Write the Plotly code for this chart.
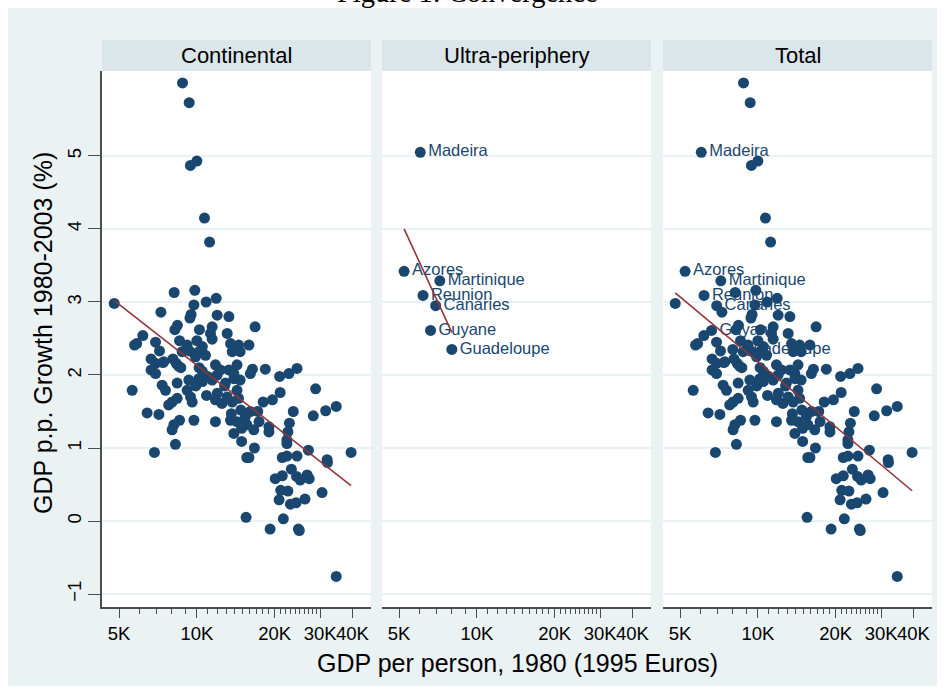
import numpy as np
import plotly.graph_objects as go

# continental regions: GDP per person 1980 (1995 euros, thousands) and growth 1980-2003 (%)
cont_gdp_k = [
    8.8, 9.34, 9.44, 10.0, 10.7, 11.2, 4.79, 8.17, 9.82, 9.74,
    10.86, 11.88, 7.26, 9.4, 9.5, 11.98, 13.3, 8.41, 8.22, 10.23,
    11.46, 11.29, 11.46, 6.18, 5.74, 5.85, 6.92, 8.57, 9.17, 10.0,
    10.5, 9.36, 10.18, 10.8, 9.88, 8.77, 7.17, 6.65, 6.92, 8.08,
    8.32, 7.45, 6.65, 6.92, 11.8, 12.34, 11.98, 13.5, 13.7, 13.3,
    13.9, 13.1, 8.49, 16.8, 14.5, 15.9, 14.7, 14.3, 16.4, 16.1,
    18.4, 20.9, 22.7, 24.4, 5.62, 7.34, 7.56, 8.39, 9.31, 10.18,
    10.5, 9.17, 9.45, 9.59, 8.02, 7.78, 8.39, 6.42, 7.13, 8.57,
    8.15, 8.02, 9.74, 8.26, 6.85, 11.8, 13.5, 13.9, 11.8, 12.5,
    13.1, 13.7, 14.3, 11.46, 12.9, 13.9, 14.7, 28.8, 21.0, 18.05,
    19.6, 14.5, 14.8, 15.4, 16.1, 17.2, 15.6, 16.6, 17.4, 14.3,
    14.9, 23.6, 28.2, 31.5, 34.6, 22.8, 22.5, 19.0, 19.0, 22.3,
    22.3, 14.9, 16.7, 15.6, 15.9, 27.0, 39.5, 21.4, 22.3, 24.4,
    31.9, 32.0, 23.2, 20.1, 21.4, 26.7, 27.2, 15.5, 19.2, 21.6,
    24.7, 24.9, 34.6, 21.1, 22.5, 20.8, 23.0, 24.2, 26.2, 30.5,
    24.3, 25.1, 13.6, 10.5, 11.0, 10.2, 12.8, 12.0, 10.9, 9.9,
    8.67, 7.39,
]
cont_growth = [
    6.0, 5.73, 4.87, 4.93, 4.15, 3.82, 2.98, 3.13, 3.16, 2.96,
    3.0, 3.05, 2.86, 2.78, 2.83, 2.82, 2.80, 2.68, 2.62, 2.62,
    2.66, 2.57, 2.49, 2.54, 2.41, 2.43, 2.45, 2.47, 2.41, 2.47,
    2.39, 2.33, 2.32, 2.27, 2.25, 2.32, 2.33, 2.22, 2.16, 2.22,
    2.16, 2.18, 2.07, 2.02, 2.14, 2.07, 2.0, 2.43, 2.32, 2.07,
    2.02, 2.57, 2.12, 2.66, 2.41, 2.41, 2.32, 2.14, 2.08, 2.02,
    2.08, 1.98, 2.02, 2.09, 1.79, 1.86, 1.79, 1.89, 1.93, 1.95,
    1.91, 1.79, 1.70, 1.63, 1.63, 1.59, 1.68, 1.48, 1.46, 1.38,
    1.32, 1.25, 1.38, 1.05, 0.94, 1.36, 1.38, 1.20, 1.66, 1.61,
    1.70, 1.63, 1.79, 1.93, 1.89, 1.95, 1.93, 1.81, 1.76, 1.63,
    1.66, 1.68, 1.52, 1.43, 1.50, 1.50, 1.32, 1.25, 1.36, 1.36,
    1.27, 1.50, 1.44, 1.51, 1.57, 1.34, 1.22, 1.29, 1.22, 1.11,
    1.06, 1.09, 1.0, 0.87, 0.87, 0.97, 0.94, 0.87, 0.89, 0.89,
    0.84, 0.80, 0.71, 0.58, 0.62, 0.63, 0.58, 0.05, -0.11, 0.03,
    -0.11, -0.13, -0.76, 0.42, 0.41, 0.29, 0.23, 0.25, 0.30, 0.39,
    0.61, 0.56, 1.47, 2.05, 1.98, 2.10, 1.85, 1.75, 1.72, 1.85,
    2.10, 2.17,
]

ultra_names = ['Madeira', 'Azores', 'Martinique', 'Reunion', 'Canaries', 'Guyane', 'Guadeloupe']
ultra_gdp_k = [6.04, 5.23, 7.19, 6.19, 6.93, 6.62, 8.0]
ultra_growth = [5.05, 3.42, 3.29, 3.09, 2.95, 2.61, 2.35]

panel_titles = ['Continental', 'Ultra-periphery', 'Total']
x_tickvals = [5000, 10000, 20000, 30000, 40000]
x_ticktext = ['5K', '10K', '20K', '30K', '40K']
x_minor = [k * 1000 for k in range(6, 30) if k not in (10, 20)]
y_tickvals = [-1, 0, 1, 2, 3, 4, 5]

NAVY = '#1a476f'
MAROON = '#90353b'
BG = '#eaf2f3'
STRIP = '#dbe6ea'
AXIS = '#4d4d4d'
FONT = 'Liberation Sans, Arial, sans-serif'

W, H = 945, 694
L, R, T, B = 102, 13, 71, 87
PW, PH = W - L - R, H - T - B


def px(x):
    return (x - L) / PW


def py(y):
    return 1 - (y - T) / PH


cont_gdp = np.array(cont_gdp_k) * 1000
ultra_gdp = np.array(ultra_gdp_k) * 1000
tot_gdp = np.concatenate([cont_gdp, ultra_gdp])
tot_growth = np.concatenate([cont_growth, ultra_growth])


def fit_line(gdp, growth):
    lx = np.log10(gdp)
    b, a = np.polyfit(lx, growth, 1)
    xs = np.array([lx.min(), lx.max()])
    return 10 ** xs, a + b * xs


fig = go.Figure()

domains = [(102, 371), (382, 651), (663, 932)]


def add_markers(col, gdp, growth, names=None):
    fig.add_trace(go.Scatter(
        x=gdp, y=growth,
        mode='markers+text' if names else 'markers',
        text=names, textposition='middle right',
        textfont=dict(family=FONT, size=16.5, color=NAVY),
        marker=dict(size=11, color=NAVY, line=dict(width=0)),
        xaxis=f'x{col}', yaxis=f'y{col}', showlegend=False,
    ))


def add_fit(col, gdp, growth):
    fx, fy = fit_line(gdp, growth)
    fig.add_trace(go.Scatter(
        x=fx, y=fy, mode='lines',
        line=dict(color=MAROON, width=1.6),
        xaxis=f'x{col}', yaxis=f'y{col}', showlegend=False,
    ))


add_markers(1, cont_gdp, cont_growth)
add_fit(1, cont_gdp, cont_growth)

add_markers(2, ultra_gdp, ultra_growth, ultra_names)
add_fit(2, ultra_gdp, ultra_growth)

add_markers(3, ultra_gdp, ultra_growth, ultra_names)
add_markers(3, cont_gdp, cont_growth)
add_fit(3, tot_gdp, tot_growth)

x_range = [3.633, 3.633 + (domains[0][1] - domains[0][0]) / 258.5]
y_range = [-1.178, 6.164]

layout_axes = {}
for i, (x0, x1) in enumerate(domains, start=1):
    sfx = '' if i == 1 else str(i)
    layout_axes[f'xaxis{sfx}'] = dict(
        domain=[px(x0), px(x1)], anchor=f'y{sfx}', type='log', range=x_range,
        tickmode='array', tickvals=x_tickvals, ticktext=x_ticktext, tickangle=0,
        ticks='outside', ticklen=9, tickwidth=1, tickcolor=AXIS,
        minor=dict(tickmode='array', tickvals=x_minor, ticks='outside',
                   ticklen=5, tickwidth=1, tickcolor=AXIS, showgrid=False),
        showline=True, linecolor=AXIS, linewidth=1.5, mirror=False,
        showgrid=False, zeroline=False,
        tickfont=dict(family=FONT, size=18.5, color='black'),
    )
    layout_axes[f'yaxis{sfx}'] = dict(
        domain=[0, 1], anchor=f'x{sfx}', range=y_range,
        tickmode='array', tickvals=y_tickvals,
        showgrid=True, gridcolor=BG, gridwidth=1.5, zeroline=False,
        showline=(i == 1), linecolor=AXIS, linewidth=1.5,
        ticks='outside' if i == 1 else '', ticklen=12, tickwidth=1, tickcolor=AXIS,
        showticklabels=(i == 1), tickangle=-90,
        tickfont=dict(family=FONT, size=18.5, color='black'),
    )

shapes = []
annotations = []
for (x0, x1), title in zip(domains, panel_titles):
    shapes.append(dict(type='rect', xref='paper', yref='paper',
                       x0=px(x0), x1=px(x1), y0=py(71), y1=py(40),
                       fillcolor=STRIP, line=dict(width=0), layer='above'))
    annotations.append(dict(text=title, xref='paper', yref='paper',
                            x=px((x0 + x1) / 2), y=py(55.5),
                            xanchor='center', yanchor='middle', showarrow=False,
                            font=dict(family=FONT, size=22, color='black')))

# white page border around the graph
for (a0, a1, b0, b1) in [(0, W, 0, 8), (0, W, 686, H), (0, 8, 0, H), (937, W, 0, H)]:
    shapes.append(dict(type='rect', xref='paper', yref='paper',
                       x0=px(a0), x1=px(a1), y0=py(b1), y1=py(b0),
                       fillcolor='white', line=dict(width=0), layer='above'))

annotations += [
    dict(text='GDP per person, 1980 (1995 Euros)', xref='paper', yref='paper',
         x=px(517), y=py(663), xanchor='center', yanchor='middle', showarrow=False,
         font=dict(family=FONT, size=25, color='black')),
    dict(text='GDP p.p. Growth 1980-2003 (%)', xref='paper', yref='paper',
         x=px(43), y=py(333), xanchor='center', yanchor='middle', showarrow=False,
         textangle=-90, font=dict(family=FONT, size=25, color='black')),
    dict(text='Figure 1: Convergence', xref='paper', yref='paper',
         x=px(467), y=py(10), xanchor='center', yanchor='bottom', showarrow=False,
         font=dict(family='Liberation Serif, DejaVu Serif, serif', size=28.5, color='black')),
]

fig.update_layout(
    width=W, height=H,
    margin=dict(l=L, r=R, t=T, b=B),
    paper_bgcolor=BG, plot_bgcolor='white',
    shapes=shapes, annotations=annotations,
    **layout_axes,
)

fig.write_html('out.html', config={'displayModeBar': False},
               post_script="document.body.style.margin='0';")
